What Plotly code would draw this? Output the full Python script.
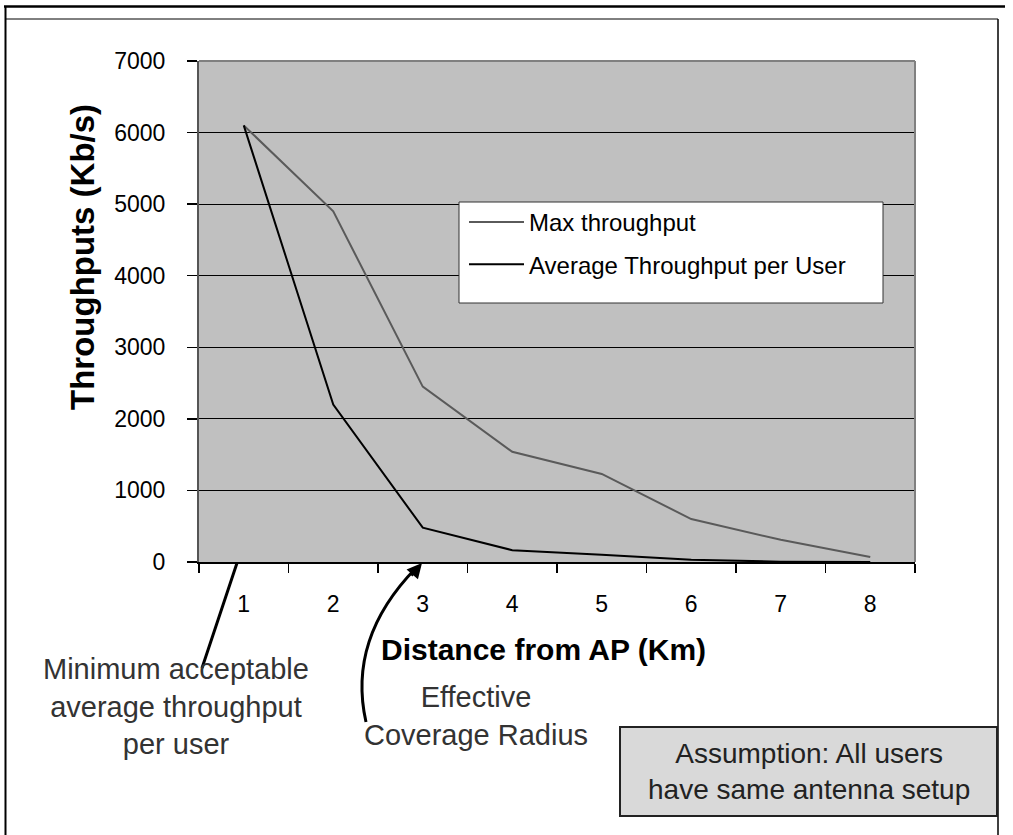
import plotly.graph_objects as go

# ---- data ----
distance_km = ["1", "2", "3", "4", "5", "6", "7", "8"]
max_throughput = [6100, 4900, 2450, 1540, 1230, 600, 310, 70]
avg_throughput_per_user = [6100, 2200, 480, 165, 100, 30, 5, 0]
series_names = ["Max throughput", "Average Throughput per User"]
y_ticks = [0, 1000, 2000, 3000, 4000, 5000, 6000, 7000]
x_title = "Distance from AP (Km)"
y_title = "Throughputs (Kb/s)"

FONT = "Liberation Sans, Arial, Helvetica, sans-serif"

# plot area in pixels (for placing decorations in paper coords)
L, R, T, B = 199, 915, 61, 562
W, H = 1013, 835


def px(x):
    return (x - L) / (R - L)


def py(y):
    return (B - y) / (B - T)


fig = go.Figure()
fig.add_trace(go.Scatter(x=distance_km, y=max_throughput, mode="lines",
                         name=series_names[0], legendgroup="a",
                         line=dict(color="#5a5a5a", width=2)))
fig.add_trace(go.Scatter(x=distance_km, y=avg_throughput_per_user, mode="lines",
                         name=series_names[1], legendgroup="b",
                         line=dict(color="#000000", width=2)))

shapes = []
# legend white box
shapes.append(dict(type="rect", xref="paper", yref="paper",
                   x0=px(459), x1=px(883), y0=py(303), y1=py(202),
                   fillcolor="white", line=dict(color="#333333", width=1), layer="above"))
# top & right plot border (grey)
shapes.append(dict(type="line", xref="paper", yref="paper", x0=0, x1=1, y0=1, y1=1,
                   line=dict(color="#808080", width=2), layer="above"))
shapes.append(dict(type="line", xref="paper", yref="paper", x0=1, x1=1, y0=0, y1=1,
                   line=dict(color="#808080", width=2), layer="above"))
# outer frame
shapes.append(dict(type="line", xref="paper", yref="paper", x0=px(4), x1=px(1005),
                   y0=py(6.5), y1=py(6.5), line=dict(color="black", width=2.5)))
shapes.append(dict(type="line", xref="paper", yref="paper", x0=px(5.5), x1=px(5.5),
                   y0=py(6), y1=py(840), line=dict(color="black", width=2)))
shapes.append(dict(type="line", xref="paper", yref="paper", x0=px(6), x1=px(998),
                   y0=py(19), y1=py(19), line=dict(color="black", width=1)))
shapes.append(dict(type="line", xref="paper", yref="paper", x0=px(998), x1=px(998),
                   y0=py(19), y1=py(840), line=dict(color="black", width=1.5)))
# straight pointer line
shapes.append(dict(type="line", xref="paper", yref="paper", x0=px(237), x1=px(202),
                   y0=py(563), y1=py(668), line=dict(color="black", width=3)))
# curved pointer
path = "M {:.5f},{:.5f} C {:.5f},{:.5f} {:.5f},{:.5f} {:.5f},{:.5f}".format(
    px(366), py(722), px(352), py(660), px(375), py(610), px(416), py(568))
shapes.append(dict(type="path", xref="paper", yref="paper", path=path,
                   line=dict(color="black", width=3)))
# assumption box
shapes.append(dict(type="rect", xref="paper", yref="paper",
                   x0=px(620), x1=px(997), y0=py(816), y1=py(727),
                   fillcolor="#d9d9d9", line=dict(color="#222222", width=2)))

annotations = [
    dict(xref="paper", yref="paper", x=px(422), y=py(563), ax=-12, ay=14,
         text="", showarrow=True, arrowhead=2, arrowsize=1, arrowwidth=3,
         arrowcolor="black"),
    dict(xref="paper", yref="paper", x=px(82), y=py(257), textangle=-90,
         text="<b>" + y_title + "</b>", showarrow=False,
         xanchor="center", yanchor="middle",
         font=dict(family=FONT, size=33, color="black")),
    dict(xref="paper", yref="paper", x=px(543), y=py(649),
         text="<b>" + x_title + "</b>", showarrow=False,
         xanchor="center", yanchor="middle",
         font=dict(family=FONT, size=30, color="black")),
    dict(xref="paper", yref="paper", x=px(176), y=py(707),
         text="Minimum acceptable<br>average throughput<br>per user",
         showarrow=False, xanchor="center", yanchor="middle", align="center",
         font=dict(family=FONT, size=29, color="#333333")),
    dict(xref="paper", yref="paper", x=px(476), y=py(716),
         text="Effective<br>Coverage Radius",
         showarrow=False, xanchor="center", yanchor="middle", align="center",
         font=dict(family=FONT, size=29, color="#333333")),
    dict(xref="paper", yref="paper", x=px(809), y=py(771),
         text="Assumption: All users<br>have same antenna setup",
         showarrow=False, xanchor="center", yanchor="middle", align="center",
         font=dict(family=FONT, size=28, color="#222222")),
]

fig.update_layout(
    width=W, height=H,
    margin=dict(l=L, r=W - R, t=T, b=H - B, autoexpand=False),
    paper_bgcolor="white",
    plot_bgcolor="#c0c0c0",
    font=dict(family=FONT, color="black"),
    showlegend=True,
    legend=dict(x=px(464), y=py(200), xanchor="left", yanchor="top",
                bgcolor="rgba(0,0,0,0)", borderwidth=0, tracegroupgap=8,
                itemwidth=55,
                font=dict(family=FONT, size=24, color="black")),
    shapes=shapes,
    annotations=annotations,
    xaxis=dict(type="category", range=[-0.5, 7.5], tickson="boundaries",
               ticks="outside", ticklen=9, tickwidth=1.5, tickcolor="black",
               showline=True, linecolor="black", linewidth=2,
               showgrid=False, zeroline=False, ticklabelstandoff=20,
               tickfont=dict(family=FONT, size=23, color="black"),
               automargin=False, fixedrange=True),
    yaxis=dict(range=[0, 7000], tickvals=y_ticks,
               ticks="outside", ticklen=10, tickwidth=1.5, tickcolor="black",
               showline=True, linecolor="#555555", linewidth=2,
               showgrid=True, gridcolor="black", gridwidth=1, zeroline=False,
               ticklabelstandoff=17,
               tickfont=dict(family=FONT, size=23, color="black"),
               automargin=False, fixedrange=True),
)

fig.write_html("out.html", config={"displayModeBar": False, "staticPlot": True})

# remove the default browser page margin so the figure sits at the window origin
with open("out.html", "r", encoding="utf-8") as f:
    html = f.read()
html = html.replace("<head>", "<head><style>html,body{margin:0;padding:0;overflow:hidden;}</style>", 1)
with open("out.html", "w", encoding="utf-8") as f:
    f.write(html)
